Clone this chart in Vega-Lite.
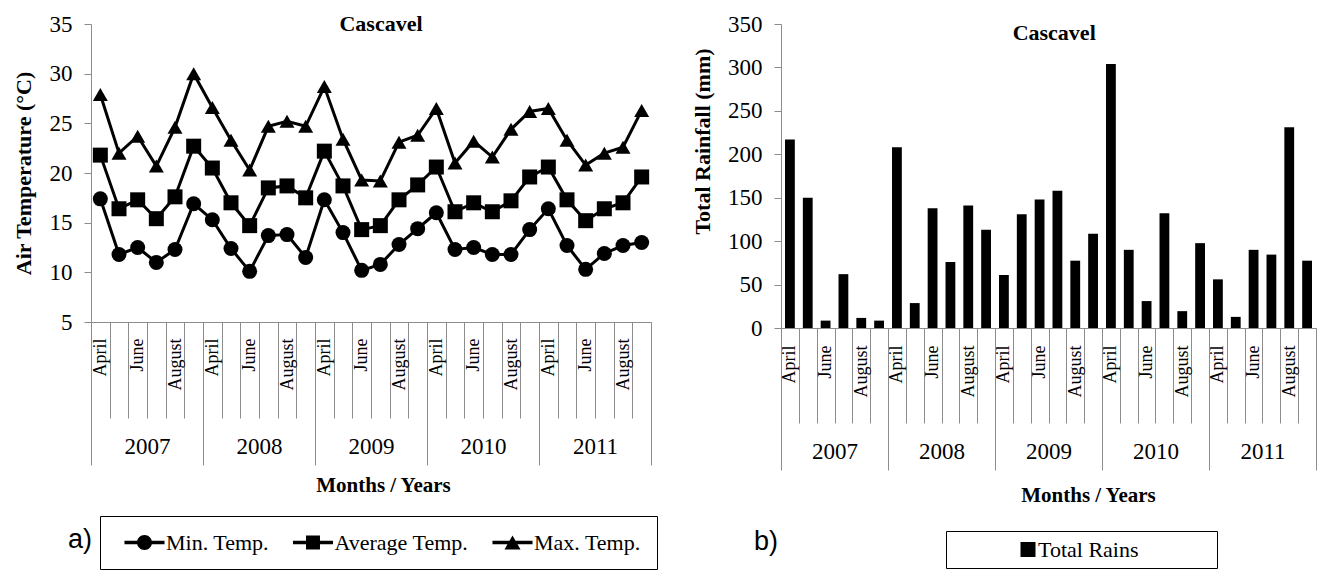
{
  "$schema": "https://vega.github.io/schema/vega-lite/v6.json",
  "padding": {"left": 12, "top": 13, "right": 0, "bottom": 0},
  "autosize": {"type": "pad"},
  "background": "white",
  "spacing": 33,
  "resolve": {"scale": {"shape": "independent", "color": "independent"}, "legend": {"shape": "independent", "color": "independent"}},
  "datasets": {
    "temps": [
      {"t":1,"year":"2007","month":"April","series":"Min. Temp.","value":17.4},{"t":1,"year":"2007","month":"April","series":"Average Temp.","value":21.8},{"t":1,"year":"2007","month":"April","series":"Max. Temp.","value":27.9},
      {"t":2,"year":"2007","month":"May","series":"Min. Temp.","value":11.8},{"t":2,"year":"2007","month":"May","series":"Average Temp.","value":16.4},{"t":2,"year":"2007","month":"May","series":"Max. Temp.","value":22.0},
      {"t":3,"year":"2007","month":"June","series":"Min. Temp.","value":12.5},{"t":3,"year":"2007","month":"June","series":"Average Temp.","value":17.3},{"t":3,"year":"2007","month":"June","series":"Max. Temp.","value":23.7},
      {"t":4,"year":"2007","month":"July","series":"Min. Temp.","value":11.0},{"t":4,"year":"2007","month":"July","series":"Average Temp.","value":15.4},{"t":4,"year":"2007","month":"July","series":"Max. Temp.","value":20.7},
      {"t":5,"year":"2007","month":"August","series":"Min. Temp.","value":12.3},{"t":5,"year":"2007","month":"August","series":"Average Temp.","value":17.6},{"t":5,"year":"2007","month":"August","series":"Max. Temp.","value":24.6},
      {"t":6,"year":"2007","month":"September","series":"Min. Temp.","value":16.9},{"t":6,"year":"2007","month":"September","series":"Average Temp.","value":22.7},{"t":6,"year":"2007","month":"September","series":"Max. Temp.","value":30.0},
      {"t":7,"year":"2008","month":"April","series":"Min. Temp.","value":15.3},{"t":7,"year":"2008","month":"April","series":"Average Temp.","value":20.5},{"t":7,"year":"2008","month":"April","series":"Max. Temp.","value":26.6},
      {"t":8,"year":"2008","month":"May","series":"Min. Temp.","value":12.4},{"t":8,"year":"2008","month":"May","series":"Average Temp.","value":17.0},{"t":8,"year":"2008","month":"May","series":"Max. Temp.","value":23.3},
      {"t":9,"year":"2008","month":"June","series":"Min. Temp.","value":10.1},{"t":9,"year":"2008","month":"June","series":"Average Temp.","value":14.7},{"t":9,"year":"2008","month":"June","series":"Max. Temp.","value":20.3},
      {"t":10,"year":"2008","month":"July","series":"Min. Temp.","value":13.7},{"t":10,"year":"2008","month":"July","series":"Average Temp.","value":18.5},{"t":10,"year":"2008","month":"July","series":"Max. Temp.","value":24.7},
      {"t":11,"year":"2008","month":"August","series":"Min. Temp.","value":13.8},{"t":11,"year":"2008","month":"August","series":"Average Temp.","value":18.7},{"t":11,"year":"2008","month":"August","series":"Max. Temp.","value":25.2},
      {"t":12,"year":"2008","month":"September","series":"Min. Temp.","value":11.5},{"t":12,"year":"2008","month":"September","series":"Average Temp.","value":17.5},{"t":12,"year":"2008","month":"September","series":"Max. Temp.","value":24.7},
      {"t":13,"year":"2009","month":"April","series":"Min. Temp.","value":17.3},{"t":13,"year":"2009","month":"April","series":"Average Temp.","value":22.2},{"t":13,"year":"2009","month":"April","series":"Max. Temp.","value":28.7},
      {"t":14,"year":"2009","month":"May","series":"Min. Temp.","value":14.0},{"t":14,"year":"2009","month":"May","series":"Average Temp.","value":18.7},{"t":14,"year":"2009","month":"May","series":"Max. Temp.","value":23.4},
      {"t":15,"year":"2009","month":"June","series":"Min. Temp.","value":10.2},{"t":15,"year":"2009","month":"June","series":"Average Temp.","value":14.3},{"t":15,"year":"2009","month":"June","series":"Max. Temp.","value":19.3},
      {"t":16,"year":"2009","month":"July","series":"Min. Temp.","value":10.8},{"t":16,"year":"2009","month":"July","series":"Average Temp.","value":14.7},{"t":16,"year":"2009","month":"July","series":"Max. Temp.","value":19.2},
      {"t":17,"year":"2009","month":"August","series":"Min. Temp.","value":12.8},{"t":17,"year":"2009","month":"August","series":"Average Temp.","value":17.3},{"t":17,"year":"2009","month":"August","series":"Max. Temp.","value":23.1},
      {"t":18,"year":"2009","month":"September","series":"Min. Temp.","value":14.4},{"t":18,"year":"2009","month":"September","series":"Average Temp.","value":18.8},{"t":18,"year":"2009","month":"September","series":"Max. Temp.","value":23.8},
      {"t":19,"year":"2010","month":"April","series":"Min. Temp.","value":16.0},{"t":19,"year":"2010","month":"April","series":"Average Temp.","value":20.6},{"t":19,"year":"2010","month":"April","series":"Max. Temp.","value":26.5},
      {"t":20,"year":"2010","month":"May","series":"Min. Temp.","value":12.3},{"t":20,"year":"2010","month":"May","series":"Average Temp.","value":16.1},{"t":20,"year":"2010","month":"May","series":"Max. Temp.","value":21.0},
      {"t":21,"year":"2010","month":"June","series":"Min. Temp.","value":12.5},{"t":21,"year":"2010","month":"June","series":"Average Temp.","value":17.0},{"t":21,"year":"2010","month":"June","series":"Max. Temp.","value":23.2},
      {"t":22,"year":"2010","month":"July","series":"Min. Temp.","value":11.8},{"t":22,"year":"2010","month":"July","series":"Average Temp.","value":16.1},{"t":22,"year":"2010","month":"July","series":"Max. Temp.","value":21.6},
      {"t":23,"year":"2010","month":"August","series":"Min. Temp.","value":11.8},{"t":23,"year":"2010","month":"August","series":"Average Temp.","value":17.2},{"t":23,"year":"2010","month":"August","series":"Max. Temp.","value":24.4},
      {"t":24,"year":"2010","month":"September","series":"Min. Temp.","value":14.3},{"t":24,"year":"2010","month":"September","series":"Average Temp.","value":19.6},{"t":24,"year":"2010","month":"September","series":"Max. Temp.","value":26.2},
      {"t":25,"year":"2011","month":"April","series":"Min. Temp.","value":16.4},{"t":25,"year":"2011","month":"April","series":"Average Temp.","value":20.6},{"t":25,"year":"2011","month":"April","series":"Max. Temp.","value":26.5},
      {"t":26,"year":"2011","month":"May","series":"Min. Temp.","value":12.7},{"t":26,"year":"2011","month":"May","series":"Average Temp.","value":17.3},{"t":26,"year":"2011","month":"May","series":"Max. Temp.","value":23.3},
      {"t":27,"year":"2011","month":"June","series":"Min. Temp.","value":10.3},{"t":27,"year":"2011","month":"June","series":"Average Temp.","value":15.2},{"t":27,"year":"2011","month":"June","series":"Max. Temp.","value":20.8},
      {"t":28,"year":"2011","month":"July","series":"Min. Temp.","value":11.9},{"t":28,"year":"2011","month":"July","series":"Average Temp.","value":16.4},{"t":28,"year":"2011","month":"July","series":"Max. Temp.","value":22.0},
      {"t":29,"year":"2011","month":"August","series":"Min. Temp.","value":12.7},{"t":29,"year":"2011","month":"August","series":"Average Temp.","value":17.0},{"t":29,"year":"2011","month":"August","series":"Max. Temp.","value":22.6},
      {"t":30,"year":"2011","month":"September","series":"Min. Temp.","value":13.0},{"t":30,"year":"2011","month":"September","series":"Average Temp.","value":19.6},{"t":30,"year":"2011","month":"September","series":"Max. Temp.","value":26.3}
    ],
    "rain": [
      {"t":1,"year":"2007","month":"April","rain":217},{"t":2,"year":"2007","month":"May","rain":150},{"t":3,"year":"2007","month":"June","rain":8.5},
      {"t":4,"year":"2007","month":"July","rain":62},{"t":5,"year":"2007","month":"August","rain":11.6},{"t":6,"year":"2007","month":"September","rain":8.5},
      {"t":7,"year":"2008","month":"April","rain":208},{"t":8,"year":"2008","month":"May","rain":28.7},{"t":9,"year":"2008","month":"June","rain":138},
      {"t":10,"year":"2008","month":"July","rain":76},{"t":11,"year":"2008","month":"August","rain":141},{"t":12,"year":"2008","month":"September","rain":113},
      {"t":13,"year":"2009","month":"April","rain":61},{"t":14,"year":"2009","month":"May","rain":131},{"t":15,"year":"2009","month":"June","rain":148},
      {"t":16,"year":"2009","month":"July","rain":158},{"t":17,"year":"2009","month":"August","rain":77.5},{"t":18,"year":"2009","month":"September","rain":108.5},
      {"t":19,"year":"2010","month":"April","rain":304},{"t":20,"year":"2010","month":"May","rain":90},{"t":21,"year":"2010","month":"June","rain":31},
      {"t":22,"year":"2010","month":"July","rain":132},{"t":23,"year":"2010","month":"August","rain":19.4},{"t":24,"year":"2010","month":"September","rain":97.7},
      {"t":25,"year":"2011","month":"April","rain":56},{"t":26,"year":"2011","month":"May","rain":12.8},{"t":27,"year":"2011","month":"June","rain":90},
      {"t":28,"year":"2011","month":"July","rain":84.5},{"t":29,"year":"2011","month":"August","rain":231},{"t":30,"year":"2011","month":"September","rain":77.5}
    ]
  },
  "hconcat": [
    {
      "title": {"text": "a)", "orient": "bottom", "anchor": "start", "frame": "bounds", "font": "Liberation Sans", "fontSize": 27, "fontWeight": "normal", "baseline": "alphabetic", "offset": -22, "dx": 56, "color": "black"},
      "resolve": {"scale": {"shape": "independent", "color": "independent"}, "legend": {"shape": "independent", "color": "independent"}},
      "vconcat": [
        {
          "width": 560,
          "height": 298,
          "title": {"text": "Cascavel", "frame": "group", "anchor": "middle", "baseline": "alphabetic", "offset": -40, "dx": 10, "fontSize": 22, "fontWeight": "bold", "font": "Liberation Serif", "color": "black"},
          "data": {"name": "temps"},
          "layer": [
            {
              "layer": [
                {
                  "mark": {"type": "line", "color": "black", "strokeWidth": 3},
                  "encoding": {
                    "x": {"field": "t", "type": "ordinal", "scale": {"type": "band", "paddingInner": 0, "paddingOuter": 0},
                      "axis": {"orient": "bottom", "title": null, "labelExpr": "['April','','June','','August',''][(datum.value - 1) % 6]", "labelAngle": -90, "labelFontSize": 18, "labelPadding": -80, "tickSize": 96, "tickBand": "extent", "labelOverlap": false, "grid": false}},
                    "y": {"field": "value", "type": "quantitative", "scale": {"domain": [5, 35], "nice": false, "zero": false},
                      "axis": {"title": "Air Temperature (°C)", "values": [5, 10, 15, 20, 25, 30, 35], "grid": false, "labelFontSize": 23, "tickSize": 7, "labelPadding": 12, "titleFontSize": 22, "titleFontWeight": "bold", "titlePadding": 14}},
                    "detail": {"field": "series"}
                  }
                },
                {
                  "mark": {"type": "point", "filled": true, "color": "black", "size": 225, "opacity": 1},
                  "encoding": {
                    "x": {"field": "t", "type": "ordinal", "scale": {"type": "band", "paddingInner": 0, "paddingOuter": 0}},
                    "y": {"field": "value", "type": "quantitative", "scale": {"domain": [5, 35], "nice": false, "zero": false},
                      "axis": {"title": "Air Temperature (°C)", "values": [5, 10, 15, 20, 25, 30, 35], "grid": false, "labelFontSize": 23, "tickSize": 7, "labelPadding": 12, "titleFontSize": 22, "titleFontWeight": "bold", "titlePadding": 14}},
                    "shape": {"field": "series", "type": "nominal",
                      "scale": {"domain": ["Min. Temp.", "Average Temp.", "Max. Temp."], "range": ["circle", "square", "triangle-up"]},
                      "legend": null}
                  }
                },
                {
                  "mark": {"type": "point", "filled": true, "color": "black", "size": 225, "opacity": 0, "clip": true},
                  "encoding": {
                    "x": {"field": "t", "type": "ordinal", "scale": {"type": "band", "paddingInner": 0, "paddingOuter": 0}},
                    "y": {"field": "value", "type": "quantitative", "scale": {"domain": [5, 35], "nice": false, "zero": false},
                      "axis": {"title": "Air Temperature (°C)", "values": [5, 10, 15, 20, 25, 30, 35], "grid": false, "labelFontSize": 23, "tickSize": 7, "labelPadding": 12, "titleFontSize": 22, "titleFontWeight": "bold", "titlePadding": 14}},
                    "shape": {"field": "series", "type": "nominal",
                      "scale": {"domain": ["Min. Temp.", "Average Temp.", "Max. Temp."],
                        "range": ["M-2.67,-0.22H2.67V0.22H-2.67ZM-1,0A1,1 0 1,1 1,0A1,1 0 1,1 -1,0Z", "M-2.67,-0.22H2.67V0.22H-2.67ZM-0.93,-0.93H0.93V0.93H-0.93Z", "M-2.67,-0.22H2.67V0.22H-2.67ZM0,-0.93L1.07,0.93H-1.07Z"]},
                      "legend": {"title": null, "orient": "none", "legendX": 9, "legendY": 492, "direction": "horizontal", "labelFont": "Liberation Serif", "labelFontSize": 22, "labelColor": "black", "labelLimit": 400, "strokeColor": "black", "padding": 15.5, "symbolSize": 225, "symbolOffset": 18, "labelOffset": 10.5, "columnPadding": 14.5, "symbolFillColor": "black", "symbolStrokeColor": "black", "symbolStrokeWidth": 0, "symbolOpacity": 1}}
                  }
                }
              ],
              "resolve": {"scale": {"shape": "independent"}, "legend": {"shape": "independent"}}
            },
            {
              "mark": {"type": "point", "opacity": 0},
              "encoding": {
                "x": {"field": "year", "type": "ordinal", "scale": {"type": "band", "paddingInner": 0, "paddingOuter": 0},
                  "axis": {"orient": "bottom", "title": "Months / Years", "labelAngle": 0, "labelFontSize": 23, "labelPadding": -30, "tickSize": 143, "tickBand": "extent", "domain": false, "titleFontSize": 21, "titleFontWeight": "bold", "titlePadding": 9, "titleX": 292, "grid": false}},
                "y": {"field": "value", "type": "quantitative", "scale": {"domain": [5, 35], "nice": false, "zero": false},
                  "axis": {"title": "Air Temperature (°C)", "values": [5, 10, 15, 20, 25, 30, 35], "grid": false, "labelFontSize": 23, "tickSize": 7, "labelPadding": 12, "titleFontSize": 22, "titleFontWeight": "bold", "titlePadding": 14}}
              }
            }
          ],
          "resolve": {"scale": {"x": "independent"}, "axis": {"x": "independent"}}
        }
      ]
    },
    {
      "title": {"text": "b)", "orient": "bottom", "anchor": "start", "frame": "bounds", "font": "Liberation Sans", "fontSize": 27, "fontWeight": "normal", "baseline": "alphabetic", "offset": -19, "dx": 63, "color": "black"},
      "resolve": {"scale": {"shape": "independent", "color": "independent"}, "legend": {"shape": "independent", "color": "independent"}},
      "vconcat": [
        {
          "width": 535,
          "height": 304,
          "title": {"text": "Cascavel", "frame": "group", "anchor": "middle", "baseline": "alphabetic", "offset": -49, "dx": 5.7, "fontSize": 22, "fontWeight": "bold", "font": "Liberation Serif", "color": "black"},
          "data": {"name": "rain"},
          "layer": [
            {
              "mark": {"type": "bar", "width": {"band": 0.55}},
              "encoding": {
                "x": {"field": "t", "type": "ordinal", "scale": {"type": "band", "paddingInner": 0, "paddingOuter": 0},
                  "axis": {"orient": "bottom", "title": null, "labelExpr": "['April','','June','','August',''][(datum.value - 1) % 6]", "labelAngle": -90, "labelFontSize": 18, "labelPadding": -78, "tickSize": 95, "tickBand": "extent", "labelOverlap": false, "grid": false}},
                "y": {"field": "rain", "type": "quantitative", "scale": {"domain": [0, 350], "nice": false},
                  "axis": {"title": "Total Rainfall (mm)", "values": [0, 50, 100, 150, 200, 250, 300, 350], "grid": false, "labelFontSize": 23, "tickSize": 7, "labelPadding": 12, "titleFontSize": 22, "titleFontWeight": "bold", "titlePadding": 13.5, "titleY": 117}},
                "color": {"datum": "Total Rains", "type": "nominal", "scale": {"range": ["black"]},
                  "legend": {"title": null, "orient": "none", "legendX": 165, "legendY": 507, "labelFont": "Liberation Serif", "labelFontSize": 22, "labelColor": "black", "labelLimit": 400, "strokeColor": "black", "padding": 7.5, "symbolType": "M-1,-1H1V1H-1ZM24.1,0", "symbolSize": 225, "symbolOffset": 63.5, "labelOffset": -1, "symbolFillColor": "black", "symbolStrokeWidth": 0, "symbolOpacity": 1}}
              }
            },
            {
              "mark": {"type": "point", "opacity": 0},
              "encoding": {
                "x": {"field": "year", "type": "ordinal", "scale": {"type": "band", "paddingInner": 0, "paddingOuter": 0},
                  "axis": {"orient": "bottom", "title": "Months / Years", "labelAngle": 0, "labelFontSize": 23, "labelPadding": -30, "tickSize": 142, "tickBand": "extent", "domain": false, "titleFontSize": 21, "titleFontWeight": "bold", "titlePadding": 14, "titleX": 307, "grid": false}},
                "y": {"field": "rain", "type": "quantitative", "scale": {"domain": [0, 350], "nice": false},
                  "axis": {"title": "Total Rainfall (mm)", "values": [0, 50, 100, 150, 200, 250, 300, 350], "grid": false, "labelFontSize": 23, "tickSize": 7, "labelPadding": 12, "titleFontSize": 22, "titleFontWeight": "bold", "titlePadding": 13.5, "titleY": 117}}
              }
            }
          ],
          "resolve": {"scale": {"x": "independent"}, "axis": {"x": "independent"}}
        }
      ]
    }
  ],
  "config": {
    "view": {"stroke": null},
    "font": "Liberation Serif",
    "axis": {"labelFont": "Liberation Serif", "titleFont": "Liberation Serif", "labelColor": "black", "titleColor": "black", "domainColor": "#8c8c8c", "tickColor": "#8c8c8c", "grid": false},
    "legend": {"labelFont": "Liberation Serif"},
    "title": {"font": "Liberation Serif", "color": "black"}
  }
}
